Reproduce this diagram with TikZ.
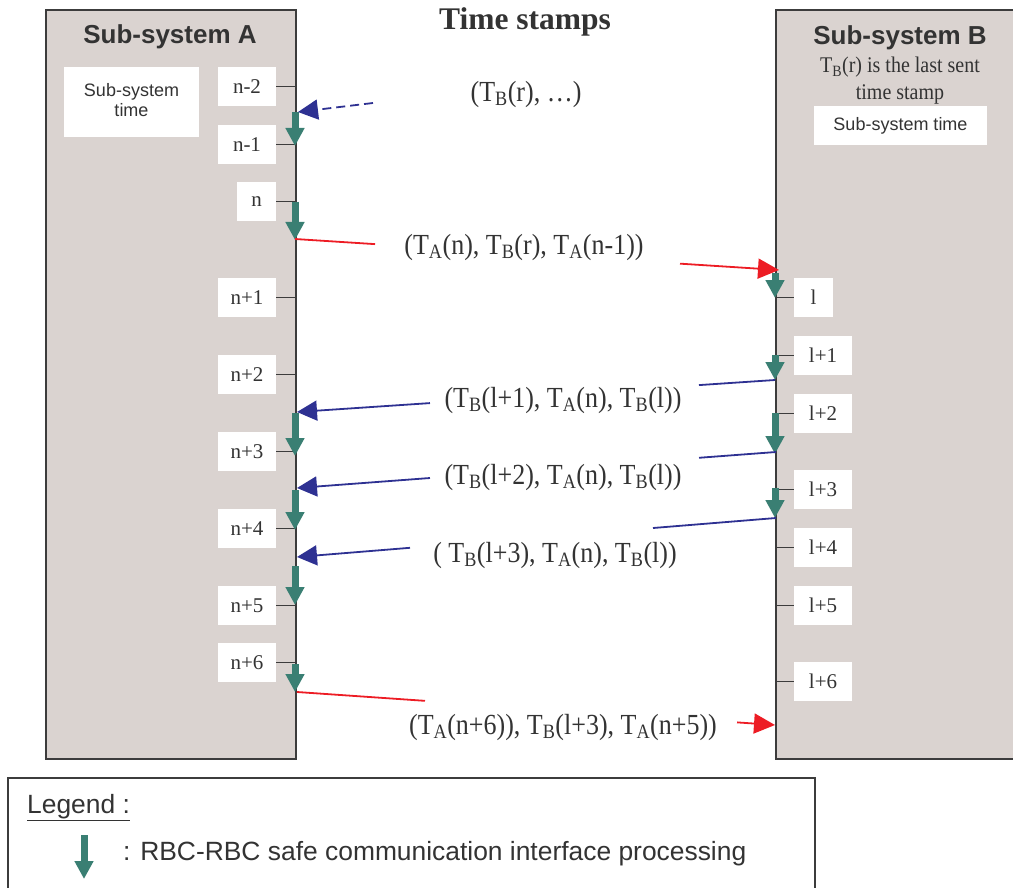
\documentclass[tikz,border=0pt]{standalone}
\usepackage{fontspec}
\setmainfont{Liberation Serif}
\setsansfont{Liberation Sans}
\usetikzlibrary{arrows.meta}
\definecolor{boxfill}{HTML}{DAD3D0}
\definecolor{boxline}{HTML}{3C3C3C}
\definecolor{procgreen}{HTML}{3A7F73}
\definecolor{msgblue}{HTML}{2E3192}
\definecolor{msgred}{HTML}{ED1C24}
\definecolor{txt}{HTML}{333333}
\newcommand\vs[1]{\scalebox{1}[1.12]{#1}}
\newcommand\Ts[1]{T\textsubscript{#1}}
\begin{document}
\begin{tikzpicture}[x=1pt,y=-1pt,
  sysbox/.style={draw=boxline,line width=2pt,fill=boxfill,inner sep=0pt},
  lbl/.style={fill=white,inner sep=0pt,minimum height=39pt,text=txt,font=\fontsize{21}{24}\selectfont},
  tickline/.style={draw=boxline,line width=1.8pt},
  proc/.style={draw=procgreen,line width=7pt,-{Triangle[width=18pt,length=18pt]}},
  msgtxt/.style={inner sep=0pt,text=txt,font=\fontsize{26}{30}\selectfont},
  bluemsg/.style={draw=msgblue,line width=1.8pt,-{Triangle[width=20pt,length=20pt]}},
  redmsg/.style={draw=msgred,line width=1.8pt,-{Triangle[width=20pt,length=21pt]}},
  title/.style={inner sep=0pt,anchor=base,text=txt,font=\sffamily\bfseries\fontsize{26}{30}\selectfont},
  timebox/.style={fill=white,inner sep=0pt,text=txt,font=\sffamily\fontsize{18}{22}\selectfont},
  legtext/.style={inner sep=0pt,anchor=base west,text=txt,font=\sffamily\fontsize{26.4}{30}\selectfont},
]
\useasboundingbox (0,0) rectangle (1013,888);

% sub-system boxes
\node[sysbox,anchor=north west,minimum width=250pt,minimum height=749pt] (A) at (45,9) {};
\node[sysbox,anchor=north west,minimum width=270pt,minimum height=749pt] (B) at (775,9) {};

% titles
\node[title] (tA) at (170,44) {Sub-system A};
\node[title] (tB) at (900,45) {Sub-system B};
\node[inner sep=0pt,anchor=base,text=txt,font=\bfseries\fontsize{31.5}{36}\selectfont] (ts) at (525,30) {Time stamps};
\node[inner sep=0pt,anchor=base,text=txt,font=\fontsize{20}{24}\selectfont] (bn1) at (900,73) {\vs{\Ts{B}(r) is the last sent}};
\node[inner sep=0pt,anchor=base,text=txt,font=\fontsize{20}{24}\selectfont] (bn2) at (900,100) {\vs{time stamp}};

% sub-system time boxes
\node[timebox,minimum width=135pt,minimum height=70pt] (stA) at (131.5,102) {\raisebox{4pt}{\begin{tabular}{@{}c@{}}Sub-system\\[-2pt]time\end{tabular}}};
\node[timebox,minimum width=173pt,minimum height=39pt] (stB) at (900.5,125.5) {Sub-system time};

% time labels of A
\node[lbl,minimum width=58pt] (a1) at (247,86.5) {n-2};
\node[lbl,minimum width=58pt] (a2) at (247,144.5) {n-1};
\node[lbl,minimum width=39pt] (a3) at (256.5,201.5) {n};
\node[lbl,minimum width=58pt] (a4) at (247,297.5) {n+1};
\node[lbl,minimum width=58pt] (a5) at (247,374.5) {n+2};
\node[lbl,minimum width=58pt] (a6) at (247,451.5) {n+3};
\node[lbl,minimum width=58pt] (a7) at (247,528.5) {n+4};
\node[lbl,minimum width=58pt] (a8) at (247,605.5) {n+5};
\node[lbl,minimum width=58pt] (a9) at (247,662.5) {n+6};
\foreach \i in {1,...,9} \draw[tickline] (a\i.east) -- (a\i.east -| A.east);

% time labels of B
\node[lbl,minimum width=39pt] (b1) at (813.5,297.5) {l};
\node[lbl,minimum width=58pt] (b2) at (823,355.5) {l+1};
\node[lbl,minimum width=58pt] (b3) at (823,413.5) {l+2};
\node[lbl,minimum width=58pt] (b4) at (823,489.5) {l+3};
\node[lbl,minimum width=58pt] (b5) at (823,547.5) {l+4};
\node[lbl,minimum width=58pt] (b6) at (823,605.5) {l+5};
\node[lbl,minimum width=58pt] (b7) at (823,681.5) {l+6};
\foreach \i in {1,...,7} \draw[tickline] (b\i.west) -- (b\i.west -| B.west);

% processing arrows
\draw[proc] (295,112) -- (295,146);
\draw[proc] (295,202) -- (295,240);
\draw[proc] (295,413) -- (295,456);
\draw[proc] (295,490) -- (295,530);
\draw[proc] (295,566) -- (295,605);
\draw[proc] (295,664) -- (295,692);
\draw[proc] (775,273) -- (775,298);
\draw[proc] (775,355) -- (775,380);
\draw[proc] (775,413) -- (775,454);
\draw[proc] (775,488) -- (775,518);

% message connectors
\coordinate (d0s) at (373,103); \coordinate (d0e) at (298,112);
\draw[bluemsg,dash pattern=on 9pt off 5pt] (d0s) -- (d0e);
\coordinate (r1s) at (295,239); \coordinate (r1e) at (779,270);
\draw[redmsg,dash pattern=on 80.2pt off 305.6pt on 700pt] (r1s) -- (r1e);
\coordinate (m1s) at (775,380); \coordinate (m1e) at (297,412);
\draw[bluemsg,dash pattern=on 76.2pt off 269.6pt on 700pt] (m1s) -- (m1e);
\coordinate (m2s) at (776,452); \coordinate (m2e) at (297,488);
\draw[bluemsg,dash pattern=on 77.2pt off 269.8pt on 700pt] (m2s) -- (m2e);
\coordinate (m3s) at (776,518); \coordinate (m3e) at (297,557);
\draw[bluemsg,dash pattern=on 123.4pt off 243.8pt on 700pt] (m3s) -- (m3e);
\coordinate (r2s) at (297,692); \coordinate (r2e) at (775,725);
\draw[redmsg,dash pattern=on 128.3pt off 312.8pt on 700pt] (r2s) -- (r2e);

% message texts
\node[msgtxt] (t0) at (526,94) {\vs{(\Ts{B}(r), …)}};
\node[msgtxt] (t1) at (524,247) {\vs{(\Ts{A}(n), \Ts{B}(r), \Ts{A}(n-1))}};
\node[msgtxt] (t2) at (563,400) {\vs{(\Ts{B}(l+1), \Ts{A}(n), \Ts{B}(l))}};
\node[msgtxt] (t3) at (563,477) {\vs{(\Ts{B}(l+2), \Ts{A}(n), \Ts{B}(l))}};
\node[msgtxt] (t4) at (555,555) {\vs{( \Ts{B}(l+3), \Ts{A}(n), \Ts{B}(l))}};
\node[msgtxt] (t5) at (563,727) {\vs{(\Ts{A}(n+6)), \Ts{B}(l+3), \Ts{A}(n+5))}};

% legend
\draw[draw=boxline,line width=1.5pt] (8,778) rectangle (815,900);
\node[legtext] (lg) at (27,813) {\underline{Legend :}};
\node[legtext] (lgt) at (123,860) {: RBC-RBC safe communication interface processing};
\draw[proc] (84,835) -- (84,879);
\end{tikzpicture}
\end{document}
